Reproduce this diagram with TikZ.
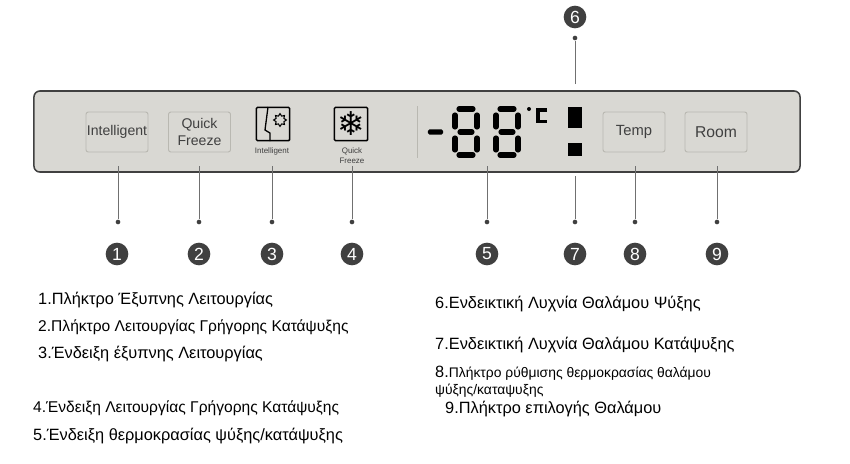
\documentclass[tikz,border=0pt]{standalone}
\usepackage{fontspec}
\setmainfont{Liberation Sans}
\newfontfamily\symbolfont{DejaVu Sans}
\usetikzlibrary{shapes.geometric}
\definecolor{panelgray}{HTML}{D9D8D3}
\definecolor{keyedge}{HTML}{B9B8B1}
\definecolor{numgray}{HTML}{404040}
\definecolor{leadgray}{HTML}{707070}
\begin{document}
\begin{tikzpicture}[
  x=0.03cm, y=-0.03cm,
  panel/.style={draw=numgray, line width=1.3pt, fill=panelgray, rounded corners=5pt},
  keybox/.style={draw=keyedge, fill=panelgray, line width=0.8pt, rounded corners=2pt, align=center,
    minimum width=1.86cm, minimum height=1.2cm, inner sep=0pt, text=numgray, font=\fontsize{12}{14}\selectfont},
  iconbox/.style={draw=black, line width=1.3pt, rounded corners=1pt, minimum size=1.0cm, inner sep=0pt},
  iconlabel/.style={align=center, inner sep=0pt, text=numgray, font=\fontsize{6.8}{8.6}\selectfont},
  lamp/.style={fill=black, inner sep=0pt},
  num/.style={circle, fill=numgray, text=white, minimum size=0.68cm, inner sep=0pt, font=\fontsize{15}{15}\selectfont},
  tip/.style={circle, fill=numgray, minimum size=0.14cm, inner sep=0pt},
  lead/.style={draw=leadgray, line width=0.8pt},
  item/.style={anchor=west, inner sep=0pt, align=left, font=\fontsize{13.95}{16}\selectfont},
  seg/.style={line width=4.4pt, line cap=round},
  pics/eightdigit/.style={code={
    \draw[seg] (7,2) -- (21,2);
    \draw[seg] (3,8) -- (3,20);
    \draw[seg] (25,8) -- (25,20);
    \draw[seg] (8,25) -- (20,25);
    \draw[seg] (3,31) -- (3,43);
    \draw[seg] (25,31) -- (25,43);
    \draw[seg] (7,48) -- (21,48);
  }}
]
  \useasboundingbox (0,0) rectangle (850,463);

  % front panel
  \node[panel, minimum width=22.98cm, minimum height=2.43cm, inner sep=0pt] (front) at (417,131.5) {};
  \node[keybox] (intelligent) at (117,132) {Intelligent};
  \node[keybox] (quick) at (199.5,132) {Quick\\Freeze};
  \node[keybox, font=\fontsize{12.6}{14}\selectfont] (temp) at (634,132) {Temp};
  \node[keybox, font=\fontsize{13.4}{14}\selectfont] (room) at (716,132) {Room};

  % icons
  \node[iconbox] (brain) at (273,124) {};
  \node[iconbox] (frost) at (351,124) {};
  \node[star, star points=8, star point ratio=1.5, draw=black, line width=0.9pt, minimum size=0.38cm, inner sep=0pt] (gear) at (280,120) {};
  \node[inner sep=0pt, font=\symbolfont\fontsize{28}{28}\selectfont] (flake) at (351,124) {❄};
  \coordinate (split) at (268,107);
  \coordinate (splitend) at (270,141);
  \draw[line width=1.1pt] (split) -- (265,130) -- (270,133) -- (splitend);
  \node[iconlabel] (intelligentlabel) at (272,151) {Intelligent};
  \node[iconlabel] (quicklabel) at (352,156) {Quick\\Freeze};

  % display
  \node[minimum width=0.02cm, minimum height=1.56cm, inner sep=0pt, fill=keyedge] (divider) at (417,132) {};
  \node[lamp, rounded corners=1.5pt, minimum width=0.46cm, minimum height=0.16cm] (minus) at (435.5,132) {};
  \pic at (452,107) {eightdigit};
  \pic at (493,107) {eightdigit};
  \node[lamp, circle, minimum size=0.12cm] (degree) at (529,109) {};
  \coordinate (ctop) at (547,110);
  \coordinate (cbottom) at (547,121.5);
  \draw[line width=3pt] (ctop) -- (538,110) -- (538,121.5) -- (cbottom);
  \node[lamp, minimum width=0.43cm, minimum height=0.63cm] (fridgelamp) at (575,117.5) {};
  \node[lamp, minimum width=0.43cm, minimum height=0.38cm] (freezerlamp) at (575,149.5) {};

  % numbers
  \node[num] (one) at (117,254) {1};
  \node[num] (two) at (199,254) {2};
  \node[num] (three) at (272,254) {3};
  \node[num] (four) at (352,254) {4};
  \node[num] (five) at (487,254) {5};
  \node[num] (six) at (575,17) {6};
  \node[num] (seven) at (575,254) {7};
  \node[num] (eight) at (635,254) {8};
  \node[num] (nine) at (717,254) {9};

  \node[tip] (tipone) at (118,222) {};
  \node[tip] (tiptwo) at (199,222) {};
  \node[tip] (tipthree) at (272,222) {};
  \node[tip] (tipfour) at (352,222) {};
  \node[tip] (tipfive) at (487,222) {};
  \node[tip] (tipsix) at (575,38) {};
  \node[tip] (tipseven) at (575,222) {};
  \node[tip] (tipeight) at (635,222) {};
  \node[tip] (tipnine) at (717,222) {};

  \coordinate (endone) at (118,166);
  \coordinate (endtwo) at (199,166);
  \coordinate (endthree) at (272,166);
  \coordinate (endfour) at (352,166);
  \coordinate (endfive) at (487,166);
  \coordinate (endsix) at (575,84);
  \coordinate (endseven) at (575,176);
  \coordinate (endeight) at (635,166);
  \coordinate (endnine) at (717,166);

  \draw[lead] (endone) -- (tipone);
  \draw[lead] (endtwo) -- (tiptwo);
  \draw[lead] (endthree) -- (tipthree);
  \draw[lead] (endfour) -- (tipfour);
  \draw[lead] (endfive) -- (tipfive);
  \draw[lead] (endsix) -- (tipsix);
  \draw[lead] (endseven) -- (tipseven);
  \draw[lead] (endeight) -- (tipeight);
  \draw[lead] (endnine) -- (tipnine);

  % legend
  \node[item] (itemone) at (38,300.5) {1.Πλήκτρο Έξυπνης Λειτουργίας};
  \node[item, font=\fontsize{13.3}{16}\selectfont] (itemtwo) at (38,327) {2.Πλήκτρο Λειτουργίας Γρήγορης Κατάψυξης};
  \node[item] (itemthree) at (38,354.5) {3.Ένδειξη έξυπνης Λειτουργίας};
  \node[item, font=\fontsize{13.3}{16}\selectfont] (itemfour) at (33,408) {4.Ένδειξη Λειτουργίας Γρήγορης Κατάψυξης};
  \node[item] (itemfive) at (33,436) {5.Ένδειξη θερμοκρασίας ψύξης/κατάψυξης};
  \node[item] (itemsix) at (435,304) {6.Ενδεικτική Λυχνία Θαλάμου Ψύξης};
  \node[item] (itemseven) at (435,345) {7.Ενδεικτική Λυχνία Θαλάμου Κατάψυξης};
  \node[item, font=\fontsize{11.85}{14.5}\selectfont] (itemeight) at (435,382) {{\fontsize{13.95}{14.5}\selectfont 8.}Πλήκτρο ρύθμισης θερμοκρασίας θαλάμου\\ψύξης/καταψυξης};
  \node[item] (itemnine) at (445,409) {9.Πλήκτρο επιλογής Θαλάμου};
\end{tikzpicture}
\end{document}
